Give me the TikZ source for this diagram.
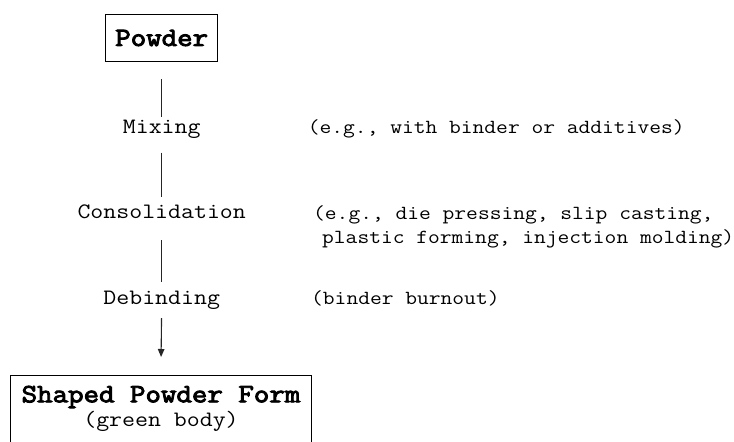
\documentclass[tikz,border=0pt]{standalone}
\usepackage{fontspec}
\newfontfamily\cour[FakeStretch=1.143]{Latin Modern Mono}
\newfontfamily\courb[FakeStretch=1.143,FakeBold=3.5]{Latin Modern Mono}
\usetikzlibrary{arrows.meta}
\tikzset{
  box/.style={draw, line width=0.9pt, inner sep=0pt},
  boldtxt/.style={font=\fontsize{26.3}{30}\selectfont\courb, inner sep=0pt},
  steptxt/.style={font=\fontsize{22}{26}\selectfont\cour, inner sep=0pt, text height=0.6em, text depth=0.2em},
  notetxt/.style={font=\fontsize{20}{24}\selectfont\cour, inner sep=0pt, anchor=west, text height=0.6em, text depth=0.2em},
  conn/.style={line width=1.1pt, draw=black!85},
}
\begin{document}
\begin{tikzpicture}[x=1pt, y=-1pt]
\useasboundingbox (0,0) rectangle (734,442);
\begin{scope}
\clip (0,0) rectangle (734,442);
% top box
\node[box, minimum width=112pt, minimum height=47pt] (powder) at (161.7,37.5) {};
\node[boldtxt] (powdertxt) at (161.7,38) {Powder};
% steps
\node[steptxt] (mixing) at (161.7,131) {Mixing};
\node[steptxt] (consol) at (161.7,216) {Consolidation};
\node[steptxt] (debind) at (161.7,302) {Debinding};
% notes
\node[notetxt] (n1) at (307.7,131) {(e.g., with binder or additives)};
\node[notetxt] (n2a) at (313,217) {(e.g., die pressing, slip casting,};
\node[notetxt] (n2b) at (322,241) {plastic forming, injection molding)};
\node[notetxt] (n3) at (311,302) {(binder burnout)};
% bottom box (cut off by the page bottom)
\node[box, minimum width=301.7pt, minimum height=90pt, anchor=north] (shaped) at (160.85,375) {};
\node[boldtxt] (shapedtxt) at (161,397) {Shaped Powder Form};
\node[steptxt] (green) at (161,424) {(green body)};
% connectors
\draw[conn, shorten <=18pt, shorten >=9.5pt] (powder.south) -- (mixing.north);
\draw[conn, shorten <=17.5pt, shorten >=14.5pt] (mixing.south) -- (consol.north);
\draw[conn, shorten <=20pt, shorten >=16pt] (consol.south) -- (debind.north);
\draw[conn, -{Stealth[length=8pt,width=6.5pt,inset=0pt]}, shorten <=12pt, shorten >=18pt] (debind.south) -- (shaped.north);
\end{scope}
\end{tikzpicture}
\end{document}
